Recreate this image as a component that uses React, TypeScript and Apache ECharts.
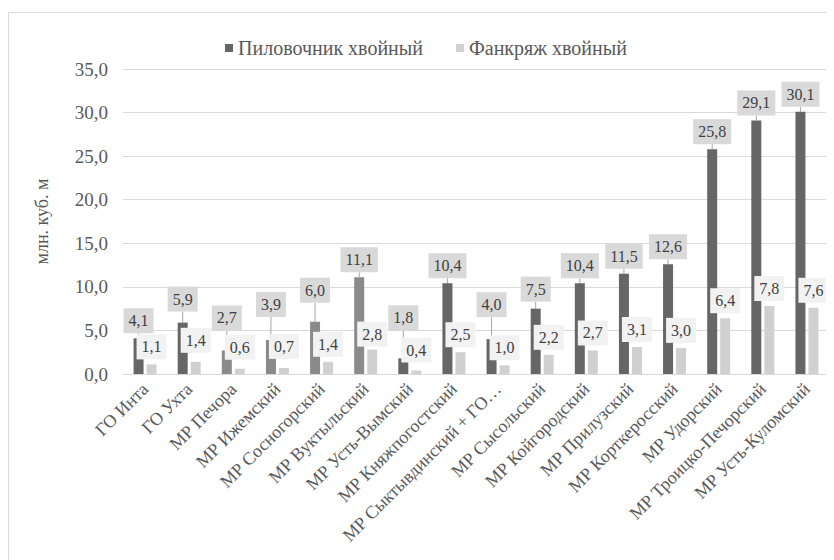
import React, { useEffect, useRef } from "react";
import * as echarts from "echarts";

const categories = [
  "ГО Инта",
  "ГО Ухта",
  "МР Печора",
  "МР Ижемский",
  "МР Сосногорский",
  "МР Вуктыльский",
  "МР Усть-Вымский",
  "МР Княжпогостский",
  "МР Сыктывдинский + ГО…",
  "МР Сысольский",
  "МР Койгородский",
  "МР Прилузский",
  "МР Корткеросский",
  "МР Удорский",
  "МР Троицко-Печорский",
  "МР Усть-Куломский",
];

const sawlogs = [4.1, 5.9, 2.7, 3.9, 6.0, 11.1, 1.8, 10.4, 4.0, 7.5, 10.4, 11.5, 12.6, 25.8, 29.1, 30.1];
const veneer = [1.1, 1.4, 0.6, 0.7, 1.4, 2.8, 0.4, 2.5, 1.0, 2.2, 2.7, 3.1, 3.0, 6.4, 7.8, 7.6];

const seriesNames = ["Пиловочник хвойный", "Фанкряж хвойный"];
const yTicks = [0, 5, 10, 15, 20, 25, 30, 35];
const yAxisName = "млн. куб. м";

// styling (not data)
const FONT = "Liberation Serif";
const darkColor = "#666666";
const darkAltColor = "#8a8a8a";
const darkAltIdx = new Set([2, 3, 4, 5]);
const darkLabelDy = [0, -6, -15, -18, -14, 0, -23, 0, -17, -2, 0, 0, 0, 0, 0, 0];
const lightLabelDy = [0, -4, -4, -4, 0, 2, -3, 0, 0, 0, 0, 0, 0, 0, 0, 0];

const fmt = (v: number) => v.toFixed(1).replace(".", ",");
const serif = (size: number, color: string) => ({
  s: { fontFamily: FONT, fontSize: size, color },
});

const cssOverride = `.chart-host svg text, .chart-host svg tspan { font-family: 'Liberation Serif', 'Times New Roman', serif !important; }`;

export default function App() {
  const ref = useRef<HTMLDivElement>(null);
  useEffect(() => {
    if (!ref.current) return;
    const chart = echarts.init(ref.current, null, { renderer: "svg" });
    const labelBase = {
      show: true,
      position: "top",
      distance: 5,
      fontFamily: FONT,
      fontSize: 16,
      color: "#404040",
      padding: [4, 5],
      formatter: (p: any) => "{s|" + fmt(p.value) + "}",
      rich: { s: { fontFamily: FONT, fontSize: 16, lineHeight: 17, color: "#404040" } },
    };
    chart.setOption({
      animation: false,
      legend: {
        left: 220,
        top: 33,
        itemWidth: 8,
        itemHeight: 8,
        itemGap: 33,
        icon: "rect",
        formatter: (n: string) => "{s|" + n + "}",
        textStyle: {
          fontFamily: FONT,
          fontSize: 20,
          color: "#595959",
          rich: serif(20, "#595959"),
        },
        data: seriesNames,
      },
      grid: { left: 123, right: 5, top: 69, bottom: 186, containLabel: false },
      xAxis: {
        type: "category",
        data: categories,
        axisLine: { lineStyle: { color: "#d9d9d9" } },
        axisTick: { show: false },
        axisLabel: {
          rotate: 45,
          interval: 0,
          margin: 12,
          fontFamily: FONT,
          fontSize: 18,
          color: "#595959",
          formatter: (v: string) => "{s|" + v + "}",
          rich: serif(18, "#595959"),
        },
      },
      yAxis: {
        type: "value",
        min: yTicks[0],
        max: yTicks[yTicks.length - 1],
        interval: 5,
        name: "{s|" + yAxisName + "}",
        nameLocation: "middle",
        nameRotate: 90,
        nameGap: 72,
        nameTextStyle: {
          fontFamily: FONT,
          fontSize: 18,
          color: "#595959",
          rich: serif(18, "#595959"),
        },
        axisLine: { show: false },
        axisTick: { show: false },
        splitLine: { lineStyle: { color: "#d9d9d9" } },
        axisLabel: {
          margin: 15,
          fontFamily: FONT,
          fontSize: 19,
          color: "#595959",
          formatter: (v: number) => "{s|" + fmt(v) + "}",
          rich: serif(19, "#595959"),
        },
      },
      series: [
        {
          name: seriesNames[0],
          type: "bar",
          barWidth: 10,
          barGap: "30%",
          itemStyle: { color: darkColor },
          data: sawlogs.map((v, i) => ({
            value: v,
            itemStyle: { color: darkAltIdx.has(i) ? darkAltColor : darkColor },
          })),
          label: { ...labelBase, backgroundColor: "#d9d9d9" },
          labelLine: { show: true, lineStyle: { color: "#a6a6a6", width: 1 } },
          labelLayout: (p: any) => ({ dy: darkLabelDy[p.dataIndex] }),
          z: 2,
        },
        {
          name: seriesNames[1],
          type: "bar",
          barWidth: 10,
          barGap: "30%",
          itemStyle: { color: "#d0d0d0" },
          data: veneer,
          label: { ...labelBase, backgroundColor: "#f2f2f2" },
          labelLayout: (p: any) => ({ dy: lightLabelDy[p.dataIndex] }),
          z: 3,
        },
      ],
    });
    return () => chart.dispose();
  }, []);
  return (
    <div
      style={{
        position: "relative",
        width: 834,
        height: 560,
        margin: "-8px 0 0 -8px",
        overflow: "hidden",
        background: "#ffffff",
      }}
    >
      <style>{cssOverride}</style>
      <div
        style={{
          position: "absolute",
          left: 8,
          top: 12,
          width: 900,
          height: 600,
          border: "1px solid #d9d9d9",
        }}
      />
      <div
        ref={ref}
        className="chart-host"
        style={{ position: "absolute", left: 0, top: 0, width: 834, height: 560 }}
      />
    </div>
  );
}
